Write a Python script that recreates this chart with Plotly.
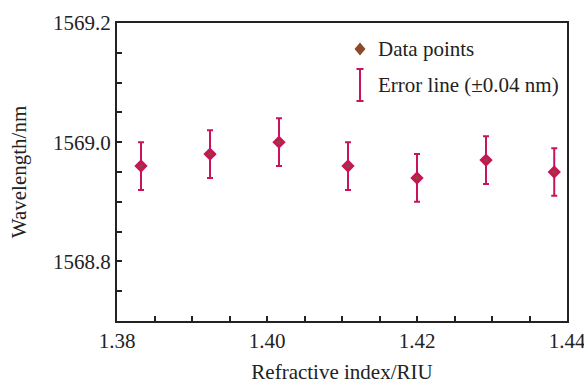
import plotly.graph_objects as go

refractive_index = [1.3832, 1.3924, 1.4016, 1.4108, 1.4200, 1.4292, 1.4383]
wavelength = [1568.96, 1568.98, 1569.00, 1568.96, 1568.94, 1568.97, 1568.95]
error_nm = [0.04] * 7

crimson = "#c8145a"
brown = "#8b4a2b"
axis_col = "#222222"
font_family = "Liberation Serif"

fig = go.Figure()
fig.add_trace(go.Scatter(
    x=refractive_index, y=wavelength, mode="markers",
    marker=dict(symbol="diamond", size=7, color=brown,
                line=dict(color=crimson, width=3)),
    error_y=dict(type="data", array=error_nm, visible=True,
                 color=crimson, thickness=2, width=3),
    showlegend=False,
))

# manual legend
lx = (360 - 117) / 450
dx = 5.5 / 450
dy = 6.5 / 298
ly1 = (321 - 49) / 298
shapes = [
    dict(type="path", xref="paper", yref="paper",
         path=f"M {lx-dx},{ly1} L {lx},{ly1+dy} L {lx+dx},{ly1} L {lx},{ly1-dy} Z",
         fillcolor=brown, line=dict(color=brown, width=0)),
]
ey_top = (321 - 69) / 298
ey_bot = (321 - 101) / 298
cw = 3.5 / 450
shapes += [
    dict(type="line", xref="paper", yref="paper", x0=lx, x1=lx, y0=ey_bot, y1=ey_top,
         line=dict(color=crimson, width=2)),
    dict(type="line", xref="paper", yref="paper", x0=lx - cw, x1=lx + cw, y0=ey_top, y1=ey_top,
         line=dict(color=crimson, width=2)),
    dict(type="line", xref="paper", yref="paper", x0=lx - cw, x1=lx + cw, y0=ey_bot, y1=ey_bot,
         line=dict(color=crimson, width=2)),
]
tx = (376 - 117) / 450
annotations = [
    dict(text="Data points", xref="paper", yref="paper", x=tx, y=ly1,
         xanchor="left", yanchor="middle", showarrow=False,
         font=dict(family=font_family, size=21, color="#222")),
    dict(text="Error line (±0.04 nm)", xref="paper", yref="paper", x=tx, y=(321 - 85) / 298,
         xanchor="left", yanchor="middle", showarrow=False,
         font=dict(family=font_family, size=21, color="#222")),
]

fig.update_layout(
    width=584, height=384,
    margin=dict(l=117, r=17, t=23, b=63, autoexpand=False),
    paper_bgcolor="white", plot_bgcolor="white",
    font=dict(family=font_family, size=21, color="#222"),
    shapes=shapes, annotations=annotations,
)
fig.update_xaxes(
    range=[1.38, 1.44], tickvals=[1.38, 1.40, 1.42, 1.44],
    ticktext=["1.38", "1.40", "1.42", "1.44"],
    ticks="inside", ticklen=5, tickwidth=1.5, tickcolor=axis_col,
    minor=dict(dtick=0.005, ticks="inside", ticklen=5, tickwidth=1.5, tickcolor=axis_col),
    showline=True, linewidth=2, linecolor=axis_col, mirror=True,
    showgrid=False, zeroline=False, automargin=False,
    ticklabeloverflow="allow",
    title=dict(text="Refractive index/RIU", font=dict(size=21), standoff=15),
)
fig.update_yaxes(
    range=[1568.7, 1569.2], tickvals=[1568.8, 1569.0, 1569.2],
    ticktext=["1568.8", "1569.0", "1569.2"],
    ticks="inside", ticklen=5, tickwidth=1.5, tickcolor=axis_col,
    minor=dict(dtick=0.05, ticks="inside", ticklen=5, tickwidth=1.5, tickcolor=axis_col),
    showline=True, linewidth=2, linecolor=axis_col, mirror=True,
    showgrid=False, zeroline=False, automargin=False,
    ticklabeloverflow="allow",
    title=dict(text="Wavelength/nm", font=dict(size=21), standoff=21),
)

fig.write_html("out.html")
